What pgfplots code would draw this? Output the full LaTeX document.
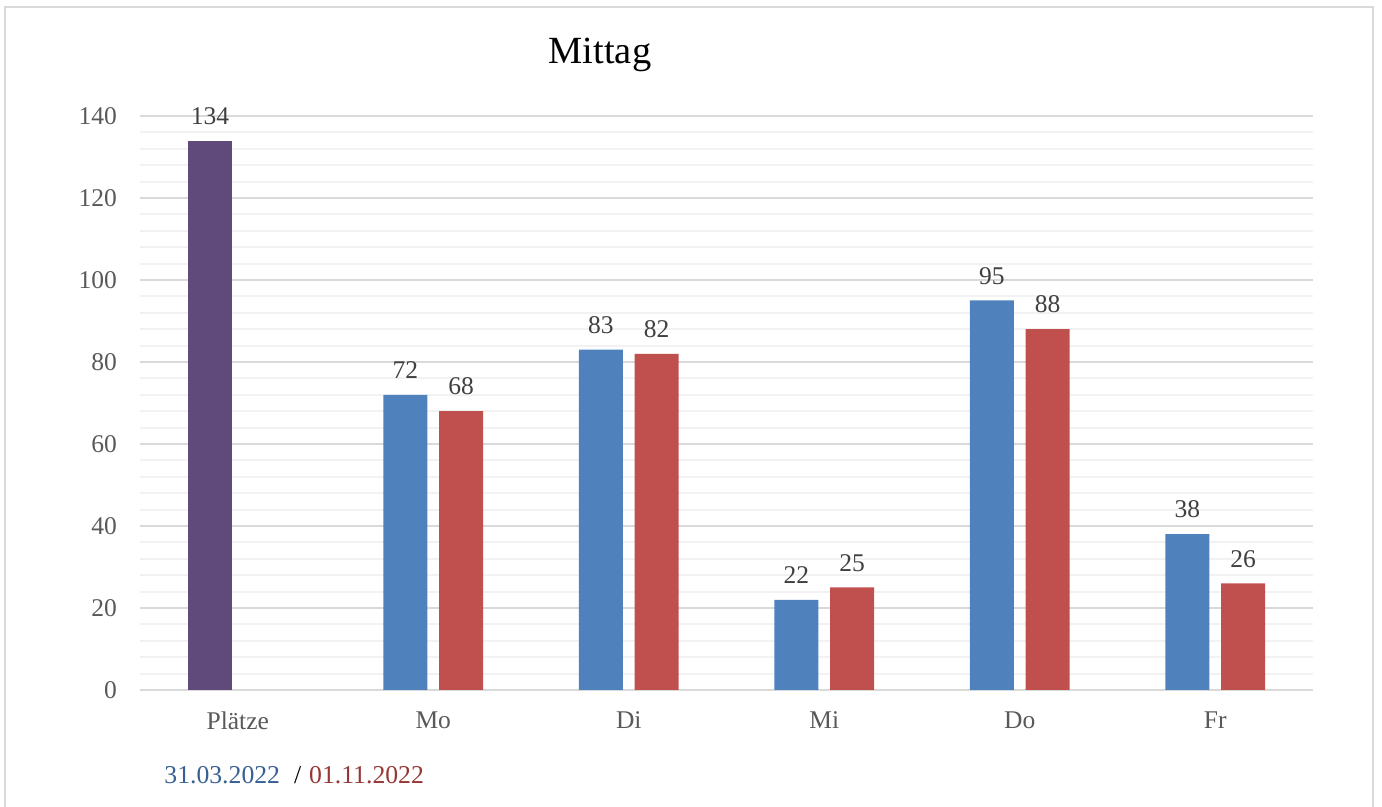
\documentclass[border=0pt]{standalone}
\usepackage{fontspec}
\setmainfont{Liberation Serif}
\usepackage{pgfplots}
\pgfplotsset{compat=1.18}
\definecolor{barblue}{HTML}{4F81BD}
\definecolor{barred}{HTML}{C0504D}
\definecolor{barpurple}{HTML}{604A7B}
\definecolor{gridmaj}{HTML}{D9D9D9}
\definecolor{gridmin}{HTML}{F2F2F2}
\definecolor{ticktext}{HTML}{595959}
\definecolor{valtext}{HTML}{404040}
\definecolor{dateblue}{HTML}{376092}
\definecolor{datered}{HTML}{963735}
\begin{document}
\begin{tikzpicture}
\begin{axis}[
    at={(70bp,58.5bp)}, anchor=south west,
    scale only axis,
    width=586.5bp, height=287bp,
    ymin=0, ymax=140,
    ytick={0,20,...,140},
    minor y tick num=4,
    xmin=-0.5, xmax=5.5,
    xtick={0,1,2,3,4,5},
    xticklabels={Plätze,Mo,Di,Mi,Do,Fr},
    major tick length=0pt, minor tick length=0pt,
    axis x line*=bottom, axis y line*=left,
    x axis line style={draw=gridmaj, line width=1bp},
    y axis line style={draw=none},
    ymajorgrids, yminorgrids,
    major grid style={draw=gridmaj, line width=1bp},
    minor grid style={draw=gridmin, line width=1bp},
    ticklabel style={font=\fontsize{12.8}{14}\selectfont, text=ticktext},
    /pgf/number format/assume math mode=true,
    yticklabel style={xshift=-8bp},
    xticklabel style={yshift=-7.5bp},
    ybar, bar width=0.225,
    nodes near coords,
    nodes near coords style={font=\fontsize{12.8}{14}\selectfont, text=valtext},
    every node near coord/.append style={yshift=4.5bp},
    clip=false,
]
\addplot[draw=none, fill=barpurple, bar shift=-0.142] coordinates {(0,134)};
\addplot[draw=none, fill=barblue, bar shift=-0.142] coordinates {(1,72) (2,83) (3,22) (4,95) (5,38)};
\addplot[draw=none, fill=barred, bar shift=0.142] coordinates {(1,68) (2,82) (3,25) (4,88) (5,26)};
\end{axis}
\node[font=\fontsize{19.3}{22}\selectfont] at (300bp,376bp) {Mittag};
\node[anchor=west, inner sep=0pt, font=\fontsize{12.9}{14}\selectfont] at (82bp,16bp)
  {\textcolor{dateblue}{31.03.2022}\hspace{7bp}/\hspace{4bp}\textcolor{datered}{01.11.2022}};
\draw[gridmaj, line width=1.2bp] (2.5bp,0) -- (2.5bp,400bp) -- (686.5bp,400bp) -- (686.5bp,0);
\pgfresetboundingbox
\useasboundingbox (0,0) rectangle (691bp,403.5bp);
\end{tikzpicture}
\end{document}
